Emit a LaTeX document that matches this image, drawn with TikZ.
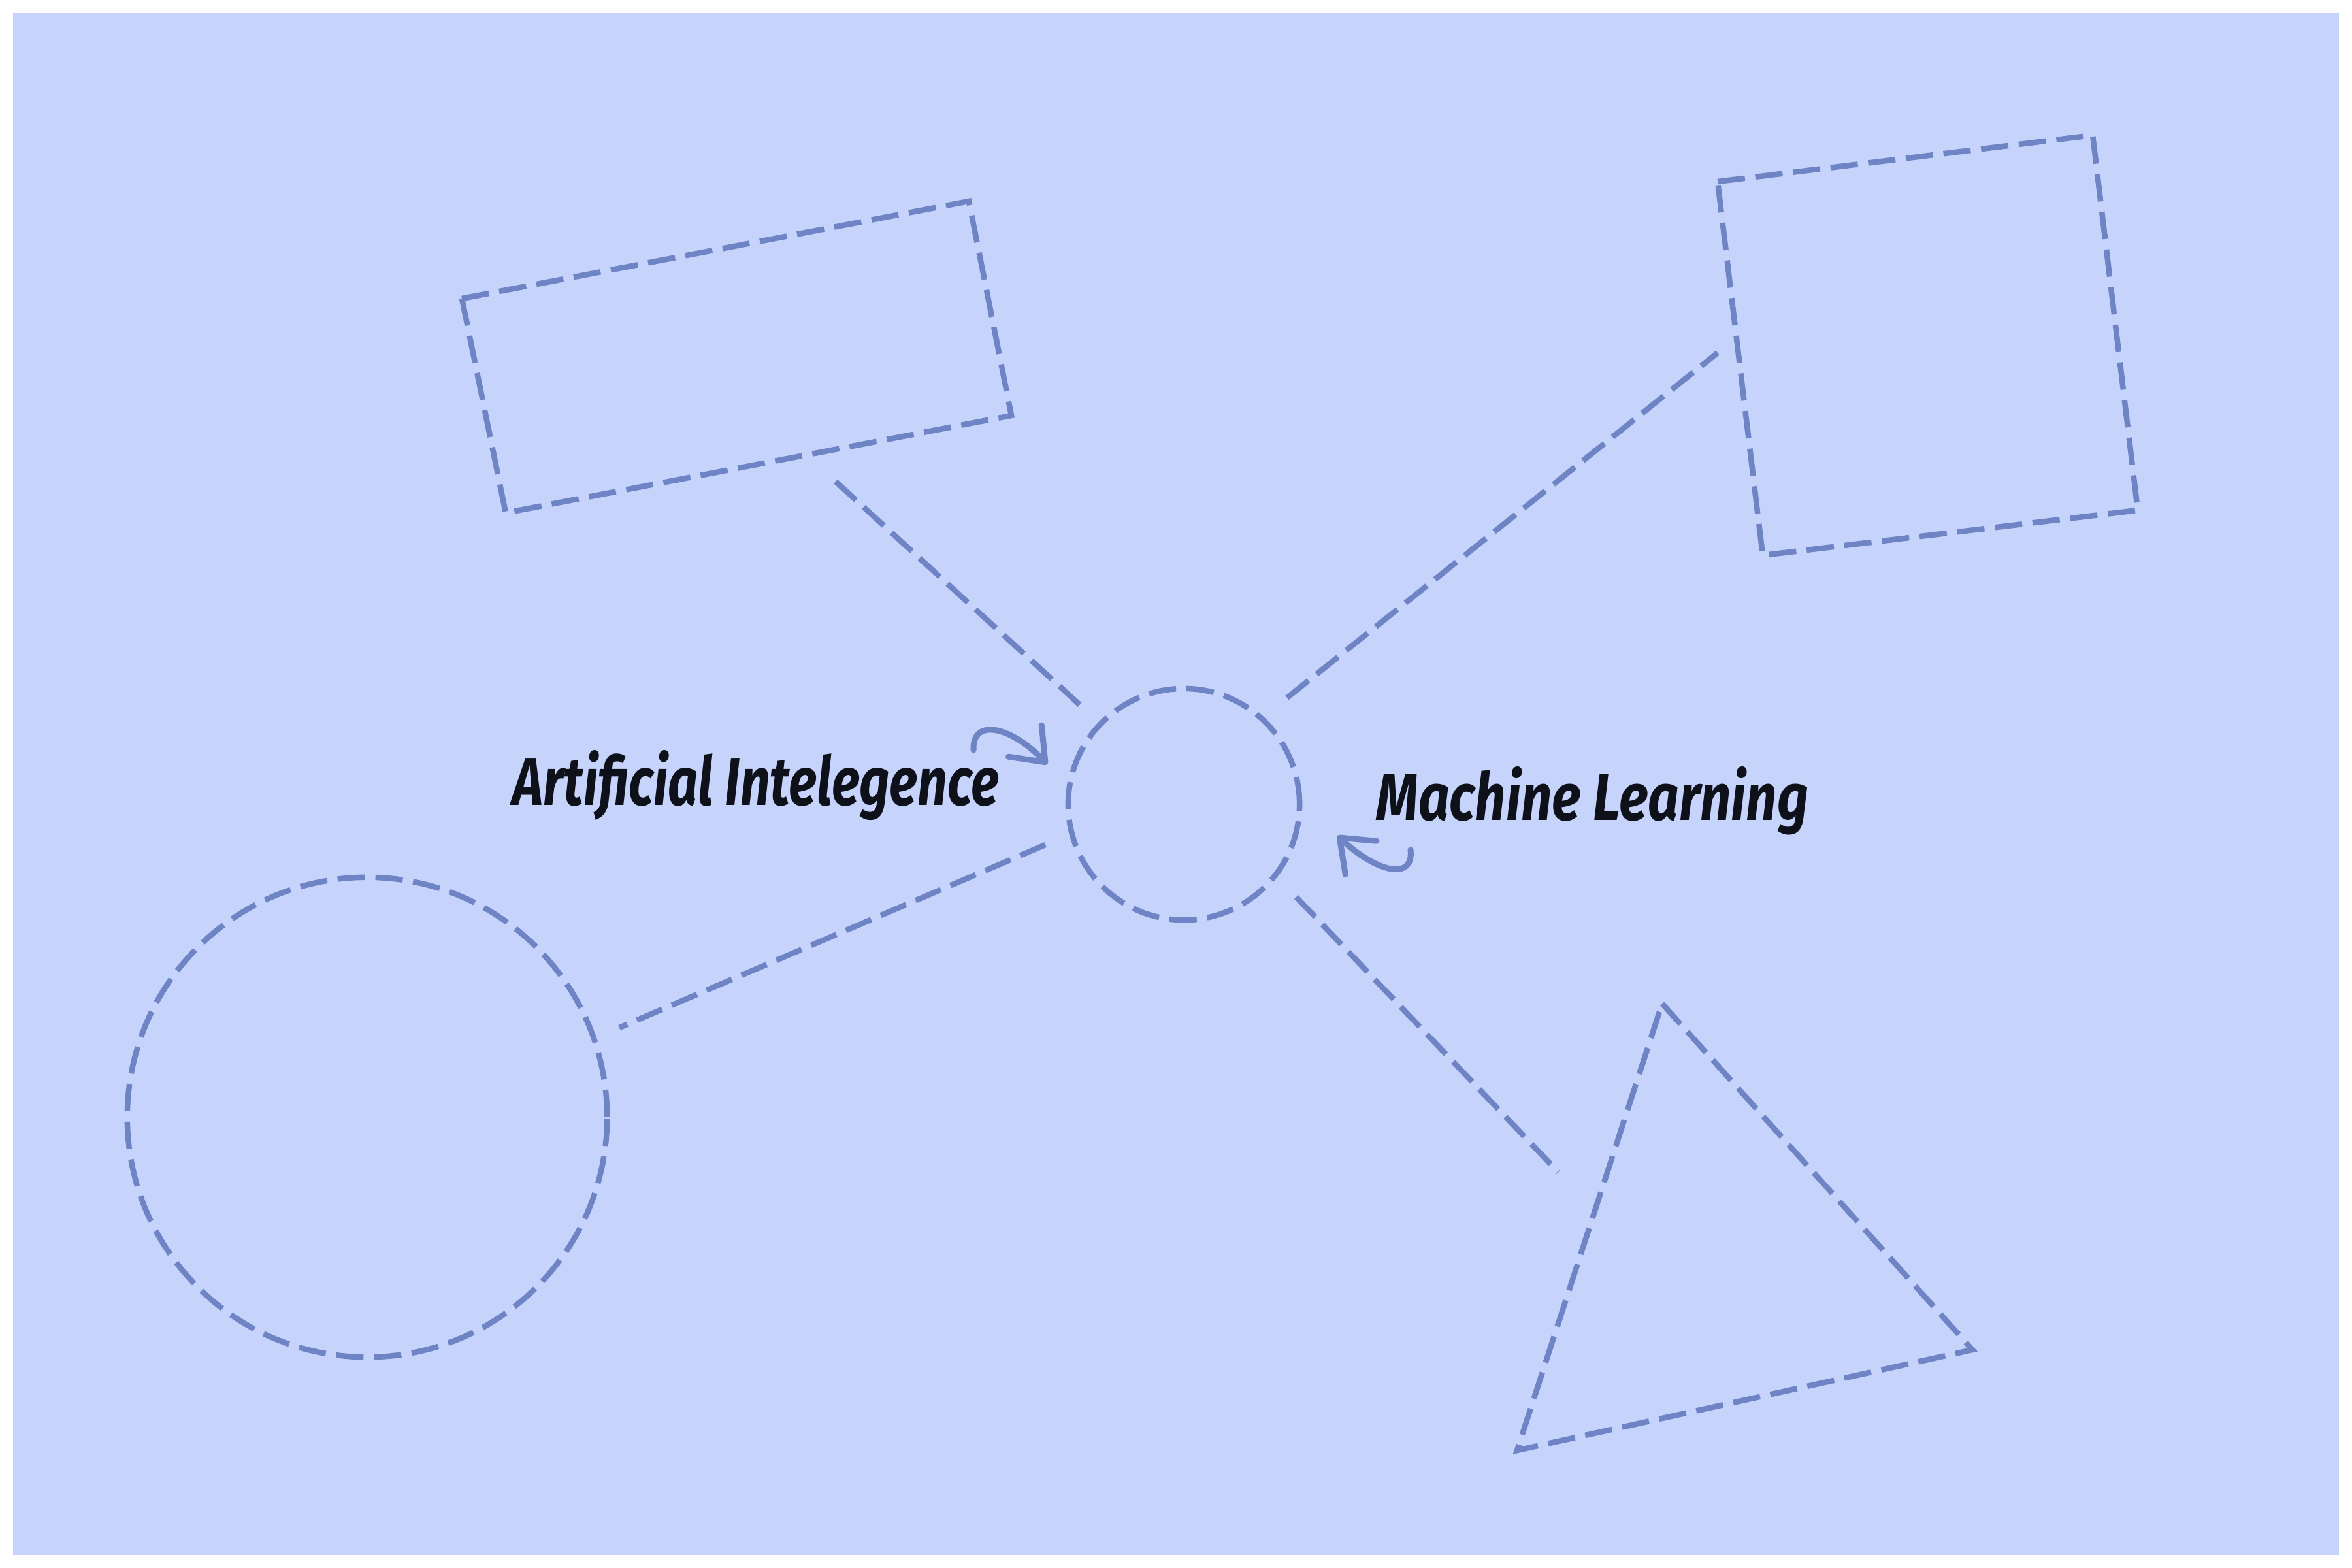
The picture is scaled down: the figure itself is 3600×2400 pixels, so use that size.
\documentclass[tikz,border=0pt]{standalone}
\usepackage{fontspec}
\setmainfont{Fira Sans}
\usetikzlibrary{arrows.meta}
\definecolor{bg}{HTML}{C6D4FC}
\definecolor{strokec}{HTML}{6E84C4}
\definecolor{ink}{HTML}{0E111A}
\begin{document}
\begin{tikzpicture}[x=0.01cm,y=-0.01cm,
  dashline/.style={draw=strokec,line width=0.085cm,dash pattern=on 0.42cm off 0.16cm,line join=miter},
  roundshape/.style={dashline,circle,inner sep=0},
  pointer/.style={draw=strokec,line width=0.09cm,line cap=round,
    -{Straight Barb[length=0.45cm,width=0.7cm,line cap=round,line join=round]}},
  handlabel/.style={inner sep=0,anchor=base west,text=ink,font=\bfseries\itshape}]
\useasboundingbox (0,0) rectangle (3600,2400);
\fill[bg] (20,20) rectangle (3580,2380);

% rotated rectangle (top left)
\coordinate (r1a) at (707,457);
\coordinate (r1b) at (1483,308);
\coordinate (r1c) at (1548,636);
\coordinate (r1d) at (774,785);
\draw[dashline] (r1a) -- (r1b) -- (r1c) -- (r1d) -- cycle;

% rotated square (top right)
\coordinate (r2a) at (2629,278);
\coordinate (r2b) at (3203,207);
\coordinate (r2c) at (3272,781);
\coordinate (r2d) at (2698,850);
\draw[dashline] (r2a) -- (r2b) -- (r2c) -- (r2d) -- cycle;

% triangle
\coordinate (t1) at (2544,1536);
\coordinate (t2) at (3019,2066);
\coordinate (t3) at (2322,2220);
\draw[dashline] (t1) -- (t2) -- (t3) -- cycle;

% circles
\node[roundshape,minimum size=3.54cm] (hub) at (1812,1231) {};
\node[roundshape,minimum size=7.34cm] (big) at (562,1710) {};

% connectors
\coordinate (c1s) at (1279,737);   \coordinate (c1e) at (1653,1079);
\coordinate (c2s) at (1970,1068);  \coordinate (c2e) at (2629,540);
\coordinate (c3s) at (1600,1293);  \coordinate (c3e) at (948,1573);
\coordinate (c4s) at (1984,1373);  \coordinate (c4e) at (2385,1794);
\draw[dashline] (c1s) -- (c1e);
\draw[dashline] (c2s) -- (c2e);
\draw[dashline] (c3s) -- (c3e);
\draw[dashline] (c4s) -- (c4e);

% labels
\node[handlabel] (ai) at (784,1232) {\resizebox{7.44cm}{0.84cm}{Artificial Intelegence}};
\node[handlabel] (ml) at (2106,1255) {\resizebox{6.61cm}{0.82cm}{Machine Learning}};

% pointer arrows
\coordinate (p1s) at (1490,1148);
\coordinate (p1e) at (1603,1170);
\draw[pointer] (p1s) .. controls (1488,1098) and (1548,1112) .. (p1e);
\coordinate (p2s) at (2159,1301);
\coordinate (p2e) at (2047,1279);
\draw[pointer] (p2s) .. controls (2164,1348) and (2108,1336) .. (p2e);
\end{tikzpicture}
\end{document}
